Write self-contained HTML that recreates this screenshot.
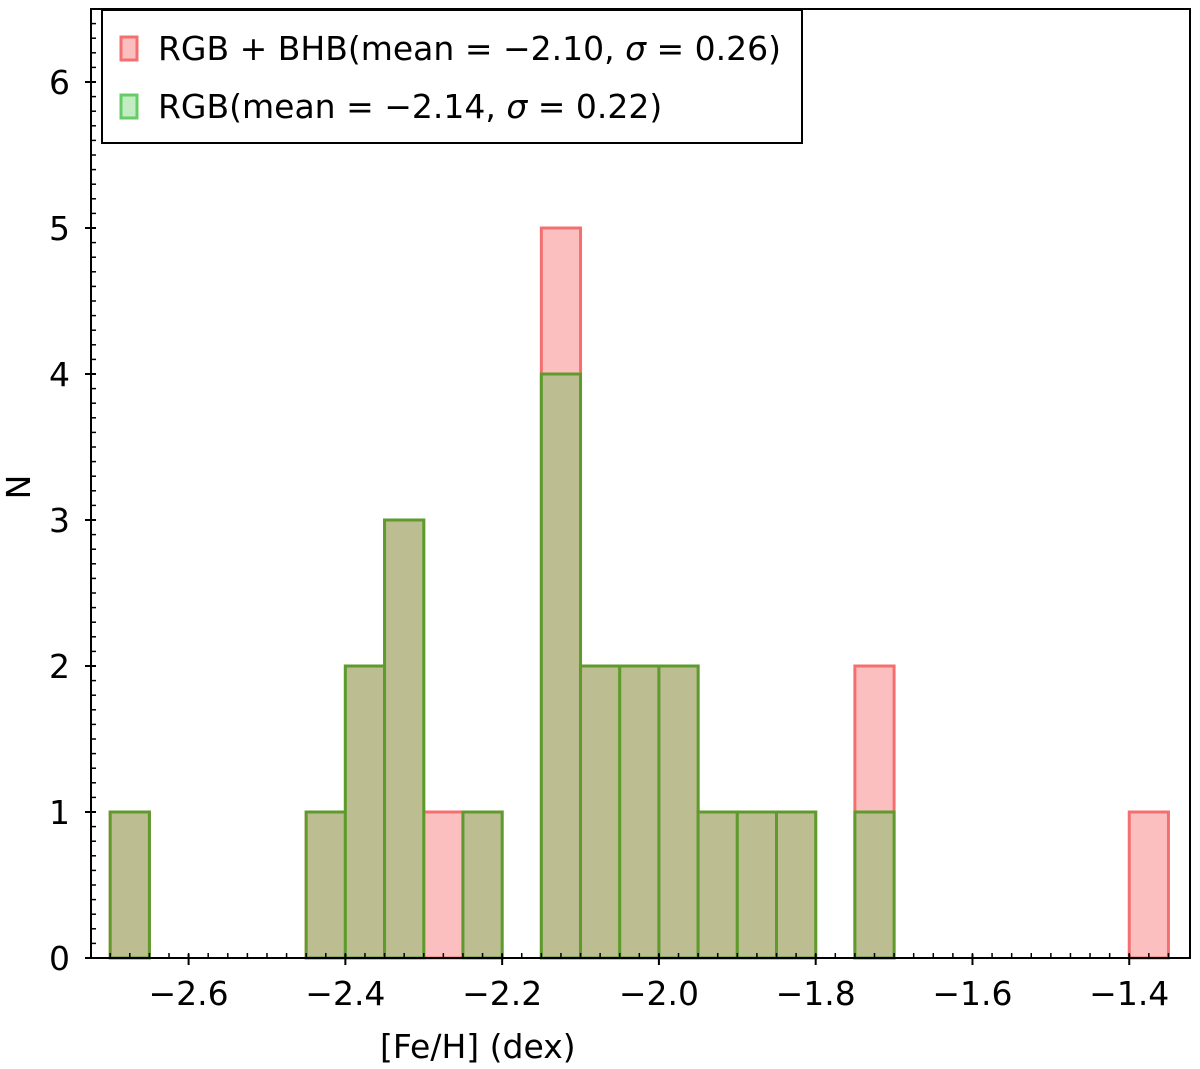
<!DOCTYPE html>
<html><head><meta charset="utf-8"><style>
body{margin:0;background:#fff}
svg{display:block;font-family:"DejaVu Sans","Liberation Sans",sans-serif}
</style></head><body>
<svg id="chart" width="1200" height="1069" xmlns="http://www.w3.org/2000/svg">
<g id="bars"></g>
<g id="axes"></g>
<g>
<rect x="102" y="10" width="700" height="133" fill="#fff" stroke="#000" stroke-width="2"/>
<rect x="121" y="37" width="16" height="23" fill="#fcbfbf" stroke="#f47070" stroke-width="3"/>
<text x="158" y="60" font-size="33">RGB + BHB(mean = −2.10, <tspan font-style="italic">σ</tspan> = 0.26)</text>
<rect x="121" y="95" width="16" height="23" fill="#c3ecc3" stroke="#66cc66" stroke-width="3"/>
<text x="158" y="118" font-size="33">RGB(mean = −2.14, <tspan font-style="italic">σ</tspan> = 0.22)</text>
</g>
<text x="380" y="1058" font-size="33" text-anchor="start">[Fe/H] (dex)</text>
<text transform="translate(30,487) rotate(-90)" font-size="33" text-anchor="middle">N</text>
</svg>
<script>
const binEdges = [-2.70,-2.45,-2.40,-2.35,-2.30,-2.25,-2.15,-2.10,-2.05,-2.00,-1.95,-1.90,-1.85,-1.75,-1.40];
const allCounts = [1,1,2,3,1,1,5,2,2,2,1,1,1,2,1];
const rgbCounts = [1,1,2,3,0,1,4,2,2,2,1,1,1,1,0];
const binWidth = 0.05;
const xTicks = [-2.6,-2.4,-2.2,-2.0,-1.8,-1.6,-1.4];
const xTickLabels = ["−2.6","−2.4","−2.2","−2.0","−1.8","−1.6","−1.4"];
const yTicks = [0,1,2,3,4,5,6];

const L=91,R=1190,T=9,B=958;
const xMin=-2.7245,xMax=-1.3225,yMin=0,yMax=6.5;
const X=v=>L+(v-xMin)/(xMax-xMin)*(R-L);
const Y=v=>B-(v-yMin)/(yMax-yMin)*(B-T);
const NS="http://www.w3.org/2000/svg";
function mk(tag,attrs,parent){const e=document.createElementNS(NS,tag);for(const k in attrs)e.setAttribute(k,attrs[k]);parent.appendChild(e);return e;}
const bars=document.getElementById('bars'),axes=document.getElementById('axes');
binEdges.forEach((e,i)=>{
  if(allCounts[i]>0){
    const r=mk('rect',{x:X(e),y:Y(allCounts[i]),width:X(e+binWidth)-X(e),height:Y(0)-Y(allCounts[i]),fill:'#fcbfbf',stroke:'#f47070','stroke-width':3},bars);
    
    
  }
});
binEdges.forEach((e,i)=>{
  if(rgbCounts[i]>0){
    const r=mk('rect',{x:X(e),y:Y(rgbCounts[i]),width:X(e+binWidth)-X(e),height:Y(0)-Y(rgbCounts[i]),fill:'#bdbd92',stroke:'#5e9b2c','stroke-width':3},bars);
    
    
  }
});
const frame=mk('rect',{x:L,y:T,width:R-L,height:B-T,fill:'none',stroke:'#000','stroke-width':2},axes);


// x minor ticks
for(let v=-2.7;v<=-1.33;v+=0.025){
  mk('line',{x1:X(v),x2:X(v),y1:B,y2:B-5,stroke:'#000','stroke-width':1.5},axes);
}
xTicks.forEach((v,i)=>{
  mk('line',{x1:X(v),x2:X(v),y1:B-4,y2:B+7,stroke:'#000','stroke-width':2},axes);
  const t=mk('text',{x:X(v),y:1005,'font-size':33,'text-anchor':'middle'},axes);
  t.textContent=xTickLabels[i];
  
  
});
for(let v=0.1;v<6.5;v+=0.1){
  mk('line',{x1:L,x2:L+5,y1:Y(v),y2:Y(v),stroke:'#000','stroke-width':1.5},axes);
}
yTicks.forEach(v=>{
  mk('line',{x1:L-6,x2:L+5,y1:Y(v),y2:Y(v),stroke:'#000','stroke-width':2},axes);
  const t=mk('text',{x:70,y:Y(v)+12,'font-size':33,'text-anchor':'end'},axes);
  t.textContent=String(v);
  
  
});
</script>
</body></html>
